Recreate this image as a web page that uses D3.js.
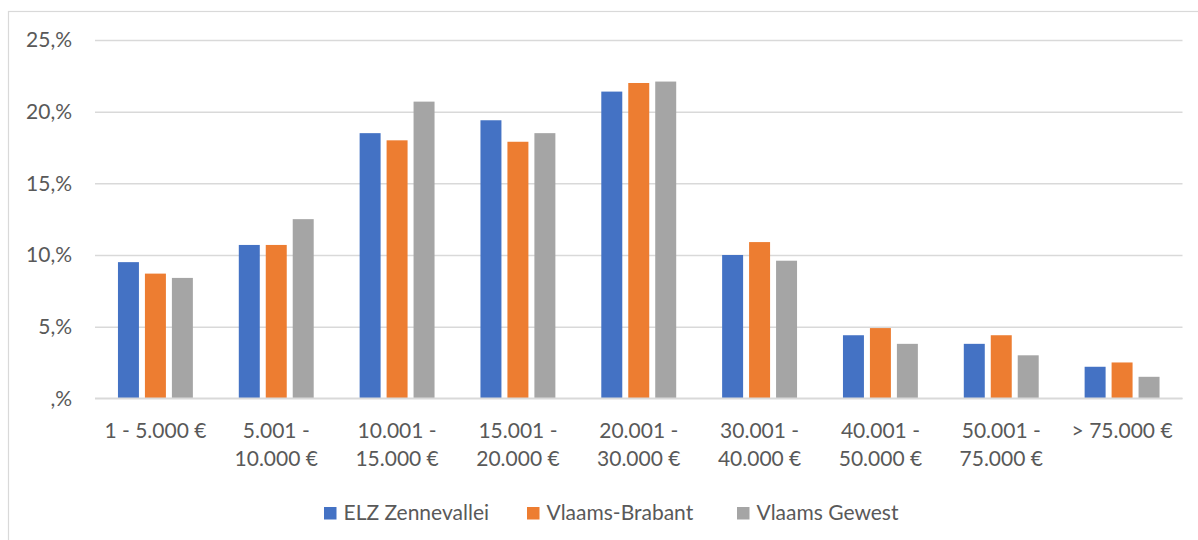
<!DOCTYPE html>
<html>
<head>
<meta charset="utf-8">
<script src="https://cdn.jsdelivr.net/npm/d3@7"></script>
<style>
  html, body { margin: 0; padding: 0; background: #fff; }
  svg { display: block; }
  text { font-family: Lato, "Open Sans", sans-serif; fill: #595959; }
</style>
</head>
<body>
<svg id="chart" width="1198" height="540"></svg>
<script>
const categories = ["1 - 5.000 €", "5.001 - 10.000 €", "10.001 - 15.000 €", "15.001 - 20.000 €",
  "20.001 - 30.000 €", "30.001 - 40.000 €", "40.001 - 50.000 €", "50.001 - 75.000 €", "> 75.000 €"];
const seriesNames = ["ELZ Zennevallei", "Vlaams-Brabant", "Vlaams Gewest"];
const elzZennevallei = [9.5, 10.7, 18.5, 19.4, 21.4, 10.0, 4.4, 3.8, 2.2];
const vlaamsBrabant  = [8.7, 10.7, 18.0, 17.9, 22.0, 10.9, 4.9, 4.4, 2.5];
const vlaamsGewest   = [8.4, 12.5, 20.7, 18.5, 22.1, 9.6, 3.8, 3.0, 1.5];
const yTicks = [0, 5, 10, 15, 20, 25];
const yTickLabels = [",%", "5,%", "10,%", "15,%", "20,%", "25,%"];
const colors = ["#4472C4", "#ED7D31", "#A5A5A5"];

const seriesValues = [elzZennevallei, vlaamsBrabant, vlaamsGewest];
const svg = d3.select("#chart");
const FONT = "21px";

// outer chart border
svg.append("rect").attr("x", 8.5).attr("y", 11.5).attr("width", 1300).attr("height", 700)
  .attr("fill", "none").attr("stroke", "#d9d9d9").attr("stroke-width", 1.2);

const plot = { left: 95, right: 1182.5, top: 40, bottom: 398.3 };

const y = d3.scaleLinear().domain([0, 25]).range([plot.bottom, plot.top]);
const x0 = d3.scaleBand().domain(categories).range([plot.left, plot.right])
  .paddingInner(0.38).paddingOuter(0.19);
const x1 = d3.scaleBand().domain(seriesNames).range([0, x0.bandwidth()]).paddingInner(0.222);

// gridlines
const yAxis = d3.axisLeft(y).tickValues(yTicks)
  .tickFormat((d, i) => yTickLabels[i])
  .tickSize(-(plot.right - plot.left)).tickPadding(23);
const gy = svg.append("g").attr("transform", `translate(${plot.left},0)`).call(yAxis);
gy.select(".domain").remove();
gy.selectAll(".tick line").attr("stroke", "#d9d9d9").attr("stroke-width", 1.5);
gy.selectAll(".tick text").style("font-size", FONT).attr("fill", "#595959")
  .style("font-family", "Lato, 'Open Sans', sans-serif");

// bars
const groups = svg.append("g").selectAll("g").data(categories).join("g")
  .attr("transform", d => `translate(${x0(d)},0)`);
groups.selectAll("rect")
  .data((c, ci) => seriesNames.map((s, si) => ({ s, si, v: seriesValues[si][ci] })))
  .join("rect")
  .attr("x", d => x1(d.s))
  .attr("width", x1.bandwidth())
  .attr("y", d => y(d.v))
  .attr("height", d => y(0) - y(d.v))
  .attr("fill", d => colors[d.si]);

// baseline
svg.append("line").attr("x1", plot.left).attr("x2", plot.right)
  .attr("y1", plot.bottom).attr("y2", plot.bottom)
  .attr("stroke", "#d9d9d9").attr("stroke-width", 1.5);

// x axis labels with wrapping
const xAxis = d3.axisBottom(x0).tickSize(0).tickPadding(0);
const gx = svg.append("g").attr("transform", `translate(0,${plot.bottom})`).call(xAxis);
gx.select(".domain").remove();
gx.selectAll(".tick text").each(function(label) {
  const t = d3.select(this);
  t.text(null).attr("y", 0).attr("dy", null)
    .style("font-size", FONT).attr("fill", "#595959")
    .style("font-family", "Lato, 'Open Sans', sans-serif");
  const words = label.split(" ");
  const maxW = 114;
  let lines = [], line = [];
  const probe = t.append("tspan");
  words.forEach(w => {
    const test = line.concat([w]).join(" ");
    probe.text(test);
    if (probe.node().getComputedTextLength() > maxW && line.length) {
      lines.push(line.join(" "));
      line = [w];
    } else line.push(w);
  });
  lines.push(line.join(" "));
  probe.remove();
  lines.forEach((l, i) => {
    t.append("tspan").attr("x", 0).attr("y", 39.5 + i * 28.5).text(l);
  });
});

// legend
const legendItems = [
  { name: seriesNames[0], x: 324 },
  { name: seriesNames[1], x: 527 },
  { name: seriesNames[2], x: 737 }
];
const lg = svg.append("g").selectAll("g").data(legendItems).join("g")
  .attr("transform", d => `translate(${d.x},507)`);
lg.append("rect").attr("width", 12.5).attr("height", 12.5)
  .attr("fill", (d, i) => colors[i]);
lg.append("text").attr("x", 19.5).attr("y", 13.3)
  .style("font-size", FONT).text(d => d.name);
</script>
</body>
</html>
